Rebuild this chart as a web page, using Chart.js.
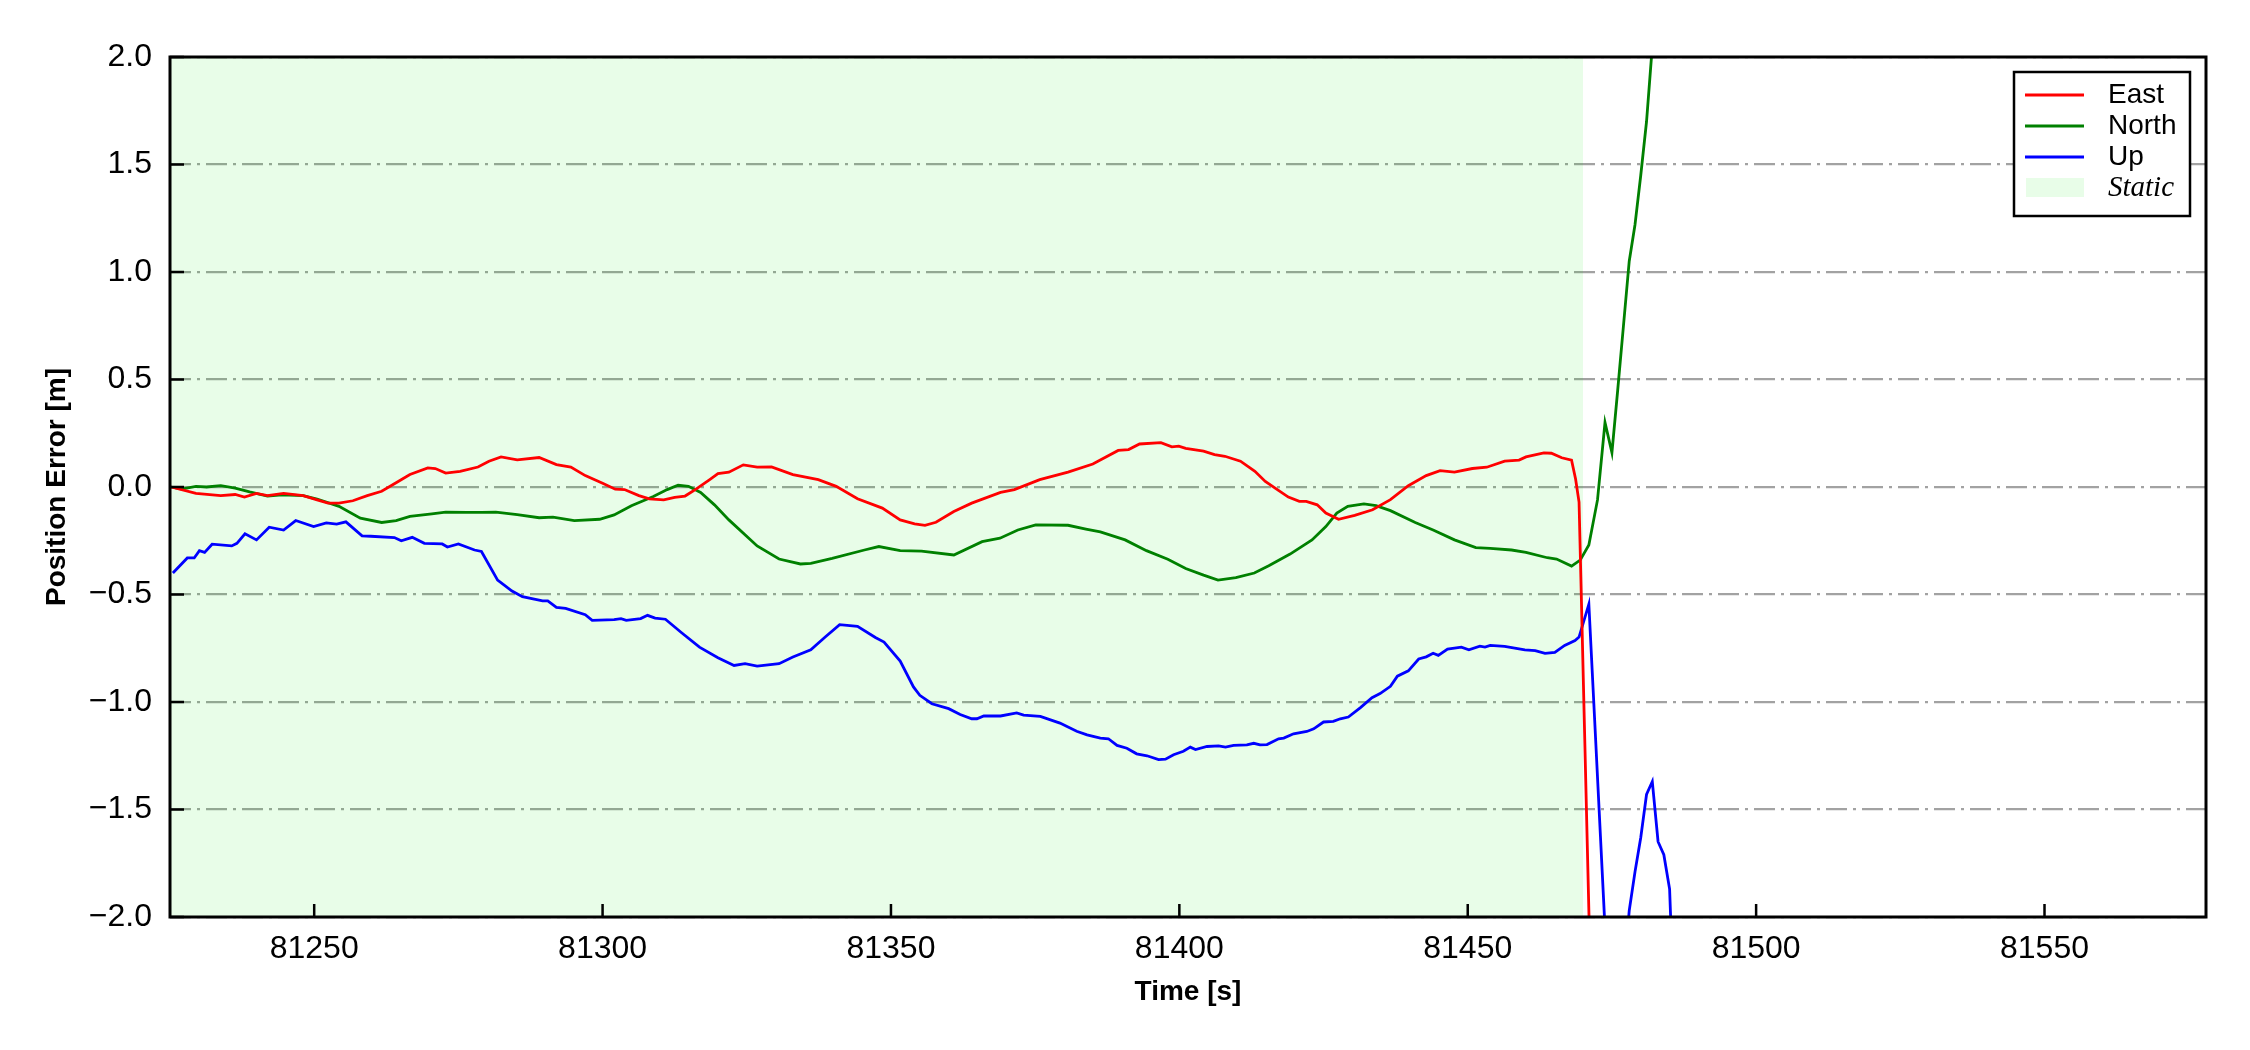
<!DOCTYPE html>
<html>
<head>
<meta charset="utf-8">
<script src="https://cdn.jsdelivr.net/npm/chart.js@4.4.1/dist/chart.umd.min.js"></script>
<style>
  html, body { margin: 0; padding: 0; background: #ffffff; }
  #wrap { width: 2250px; height: 1050px; }
</style>
</head>
<body>
<div id="wrap"><canvas id="errorChart" width="2250" height="1050"></canvas></div>
<script>
// position error time series
const eastTime = [81225.2, 81229.5, 81233.8, 81236.3, 81237.9, 81240, 81241.9, 81244.7, 81248.1, 81250.5, 81252.4, 81254.3, 81256.7, 81259.2, 81261.7, 81264.2, 81266.6, 81269.7, 81271, 81272.8, 81275.3, 81278.4, 81280.3, 81282.4, 81285.2, 81289, 81292, 81294.5, 81297, 81300.1, 81302.2, 81303.8, 81306.3, 81308.1, 81310.6, 81312.5, 81314.3, 81316.2, 81318.7, 81320, 81321.9, 81324.4, 81326.8, 81329.3, 81333, 81337.4, 81340.5, 81344.2, 81348.5, 81351.6, 81354.1, 81355.9, 81357.8, 81360.9, 81364, 81369, 81371.4, 81375.8, 81380.7, 81385, 81389.4, 81391.2, 81393.1, 81396.8, 81398.7, 81399.9, 81401.1, 81404.2, 81406.1, 81407.9, 81410.6, 81413.1, 81414.9, 81416.8, 81418.9, 81420.8, 81422, 81423.9, 81425.4, 81427.6, 81430.4, 81433.5, 81436.6, 81439.7, 81442.8, 81445.2, 81447.7, 81450.8, 81453.3, 81456.4, 81458.9, 81460.1, 81463.2, 81464.5, 81466.3, 81468, 81468.7, 81469.3, 81473]
const eastErr = [0, -0.03, -0.04, -0.035, -0.047, -0.03, -0.04, -0.03, -0.04, -0.06, -0.075, -0.075, -0.064, -0.04, -0.02, 0.02, 0.058, 0.089, 0.086, 0.065, 0.073, 0.093, 0.12, 0.14, 0.126, 0.137, 0.104, 0.093, 0.053, 0.016, -0.01, -0.012, -0.04, -0.055, -0.06, -0.048, -0.042, -0.01, 0.037, 0.062, 0.069, 0.103, 0.092, 0.093, 0.058, 0.034, 0.003, -0.055, -0.098, -0.153, -0.171, -0.178, -0.164, -0.114, -0.075, -0.025, -0.012, 0.034, 0.069, 0.107, 0.17, 0.174, 0.2, 0.206, 0.187, 0.19, 0.18, 0.167, 0.151, 0.143, 0.12, 0.073, 0.026, -0.009, -0.047, -0.067, -0.067, -0.083, -0.121, -0.15, -0.132, -0.106, -0.059, 0.006, 0.053, 0.076, 0.069, 0.086, 0.092, 0.12, 0.125, 0.14, 0.159, 0.157, 0.136, 0.125, 0.037, -0.07, -4.2]

const northTime = [81225.2, 81227, 81229.5, 81231.3, 81233.8, 81236.3, 81238.8, 81241.9, 81244.4, 81248.1, 81250.5, 81254.3, 81258, 81261.7, 81264.2, 81266.6, 81270.4, 81272.8, 81276.5, 81279, 81281.5, 81285.2, 81289, 81291.4, 81295.1, 81299.5, 81302, 81305, 81308.8, 81311.2, 81313.1, 81314.9, 81317, 81319.4, 81321.9, 81326.8, 81330.6, 81334.3, 81336.1, 81339.8, 81345.4, 81347.9, 81351.6, 81355.3, 81360.9, 81365.8, 81368.9, 81372, 81375.1, 81380.7, 81383.8, 81386.3, 81390.6, 81394.3, 81398, 81401.1, 81404.2, 81406.7, 81409.8, 81413, 81415.5, 81419.2, 81423, 81425.4, 81427.3, 81429.2, 81432, 81434.1, 81436.6, 81440.9, 81444, 81447.7, 81451.4, 81453.9, 81457.6, 81460.1, 81463.8, 81465.4, 81468, 81469.5, 81471, 81472.5, 81473.8, 81475, 81476, 81477, 81478, 81479, 81480, 81481, 81482, 81483, 81484]
const northErr = [0, -0.01, 0.003, 0, 0.006, -0.005, -0.023, -0.042, -0.036, -0.04, -0.056, -0.09, -0.145, -0.165, -0.156, -0.137, -0.125, -0.117, -0.118, -0.118, -0.117, -0.129, -0.143, -0.14, -0.156, -0.15, -0.13, -0.087, -0.044, -0.012, 0.008, 0.003, -0.025, -0.083, -0.153, -0.274, -0.335, -0.358, -0.355, -0.332, -0.293, -0.277, -0.296, -0.298, -0.316, -0.254, -0.238, -0.2, -0.176, -0.178, -0.196, -0.209, -0.246, -0.296, -0.336, -0.379, -0.41, -0.433, -0.422, -0.4, -0.366, -0.312, -0.246, -0.184, -0.121, -0.09, -0.079, -0.087, -0.11, -0.165, -0.2, -0.246, -0.282, -0.285, -0.293, -0.304, -0.329, -0.335, -0.368, -0.34, -0.27, -0.06, 0.3, 0.16, 0.45, 0.75, 1.05, 1.22, 1.45, 1.7, 2.05, 2.5, 3.0]

const upTime = [81225.5, 81228, 81229.2, 81230.1, 81231, 81232.3, 81235.7, 81236.6, 81238, 81240, 81242.2, 81244.7, 81246.8, 81249.9, 81252.1, 81253.9, 81255.5, 81258.3, 81259.8, 81263.9, 81265.1, 81267, 81269.1, 81272.2, 81273.1, 81275, 81277.8, 81279, 81281.8, 81284.3, 81286.1, 81289.6, 81290.5, 81292, 81293.6, 81297, 81298.2, 81302, 81303.2, 81304.1, 81306.6, 81307.8, 81309.1, 81310.9, 81313.7, 81316.8, 81320, 81322.8, 81324.7, 81326.8, 81330.6, 81333, 81336.1, 81338.6, 81341.1, 81344.2, 81347.3, 81348.8, 81351.6, 81353.9, 81355, 81357.1, 81360, 81362, 81364, 81364.9, 81366.1, 81369, 81371.8, 81373, 81375.9, 81379.3, 81382.2, 81384, 81386.3, 81387.7, 81389.2, 81390.9, 81392.6, 81394.4, 81396.4, 81397.6, 81399, 81400.7, 81401.9, 81402.8, 81404.8, 81406.8, 81408, 81409.4, 81411.7, 81412.9, 81414, 81415.2, 81417.2, 81418.1, 81419.8, 81422.1, 81423.3, 81425, 81426.7, 81427.9, 81429.3, 81431.4, 81433.4, 81434.8, 81436.6, 81437.8, 81439.7, 81441.5, 81442.8, 81444, 81444.9, 81446.5, 81448.9, 81450.2, 81452.1, 81453, 81453.9, 81456.4, 81459.9, 81461.7, 81463.4, 81465.1, 81466.8, 81468.6, 81469.3, 81471, 81472, 81473, 81474, 81475, 81476, 81477, 81478, 81479, 81480, 81481, 81482, 81483, 81484, 81485, 81486, 81487]
const upErr = [-0.4, -0.33, -0.33, -0.296, -0.304, -0.266, -0.274, -0.262, -0.218, -0.246, -0.187, -0.2, -0.156, -0.184, -0.167, -0.173, -0.162, -0.227, -0.229, -0.235, -0.25, -0.234, -0.262, -0.265, -0.279, -0.265, -0.293, -0.3, -0.433, -0.484, -0.51, -0.53, -0.53, -0.56, -0.565, -0.594, -0.62, -0.617, -0.612, -0.62, -0.612, -0.597, -0.61, -0.615, -0.678, -0.745, -0.794, -0.83, -0.822, -0.833, -0.822, -0.791, -0.757, -0.698, -0.64, -0.648, -0.7, -0.721, -0.81, -0.93, -0.969, -1.008, -1.031, -1.058, -1.078, -1.078, -1.065, -1.065, -1.051, -1.061, -1.067, -1.098, -1.136, -1.153, -1.168, -1.171, -1.202, -1.215, -1.241, -1.25, -1.268, -1.266, -1.245, -1.229, -1.21, -1.221, -1.207, -1.204, -1.21, -1.202, -1.199, -1.192, -1.199, -1.198, -1.171, -1.168, -1.148, -1.137, -1.125, -1.093, -1.09, -1.078, -1.07, -1.026, -0.98, -0.961, -0.927, -0.88, -0.855, -0.8, -0.79, -0.773, -0.783, -0.754, -0.745, -0.757, -0.74, -0.745, -0.737, -0.741, -0.758, -0.761, -0.774, -0.769, -0.737, -0.714, -0.698, -0.545, -1.08, -1.62, -2.16, -2.6, -2.8, -2.3, -1.97, -1.79, -1.63, -1.43, -1.37, -1.65, -1.71, -1.87, -2.6, -3.5]

// static period shaded in the background
const staticStart = 81225
const staticEnd = 81470

const seriesNames = ["East", "North", "Up"]
const seriesColors = ["#ff0000", "#008000", "#0000ff"]
const staticColor = "rgba(0, 233, 0, 0.09)"

const xRange = [81225, 81578]
const yRange = [-2.0, 2.0]
const xTicks = [81250, 81300, 81350, 81400, 81450, 81500, 81550]
const yTicks = [-2.0, -1.5, -1.0, -0.5, 0.0, 0.5, 1.0, 1.5, 2.0]

Chart.defaults.font.family = '"Liberation Sans", Arial, sans-serif'
Chart.defaults.color = '#000'

function toPoints(times, values) {
    return times.map((t, i) => ({x: t, y: values[i]}))
}

function fmtTick(v) {
    // matplotlib style unicode minus
    let s = Math.abs(v).toFixed(1)
    return v < 0 ? '\u2212' + s : s
}

// inward tick marks and the full frame round the plot area
const frameAndTicks = {
    id: 'frameAndTicks',
    afterDatasetsDraw(chart) {
        const {ctx, chartArea: a, scales} = chart
        ctx.save()
        ctx.strokeStyle = '#000'
        ctx.lineWidth = 2.5
        ctx.beginPath()
        yTicks.forEach(v => {
            let py = scales.y.getPixelForValue(v)
            ctx.moveTo(a.left, py)
            ctx.lineTo(a.left + 14, py)
        })
        xTicks.forEach(v => {
            let px = scales.x.getPixelForValue(v)
            ctx.moveTo(px, a.bottom)
            ctx.lineTo(px, a.bottom - 13)
        })
        ctx.stroke()
        ctx.lineWidth = 3
        ctx.strokeRect(a.left, a.top, a.right - a.left, a.bottom - a.top)
        ctx.restore()
    }
}

// boxed legend in the top right corner, Static label in serif italic
const boxLegend = {
    id: 'boxLegend',
    afterDraw(chart) {
        const {ctx, chartArea: a} = chart
        const w = 176, h = 144
        const left = a.right - 16 - w
        const top = a.top + 15
        const rows = [23, 54, 85, 115]
        ctx.save()
        ctx.fillStyle = '#ffffff'
        ctx.fillRect(left, top, w, h)
        ctx.lineWidth = 2.5
        ctx.strokeStyle = '#000'
        ctx.strokeRect(left, top, w, h)
        ctx.textBaseline = 'middle'
        seriesNames.forEach((name, i) => {
            ctx.strokeStyle = seriesColors[i]
            ctx.lineWidth = 2.8
            ctx.beginPath()
            ctx.moveTo(left + 11, top + rows[i])
            ctx.lineTo(left + 70, top + rows[i])
            ctx.stroke()
            ctx.fillStyle = '#000'
            ctx.font = '28px "Liberation Sans", Arial, sans-serif'
            ctx.fillText(name, left + 94, top + rows[i])
        })
        ctx.fillStyle = staticColor
        ctx.fillRect(left + 12, top + rows[3] - 9, 58, 19)
        ctx.fillStyle = '#000'
        ctx.font = 'italic 29px "Liberation Serif", "Times New Roman", serif'
        ctx.fillText('Static', left + 94, top + rows[3] + 1)
        ctx.restore()
    }
}

const datasets = [
    {label: seriesNames[0], data: toPoints(eastTime, eastErr), borderColor: seriesColors[0], order: 1},
    {label: seriesNames[1], data: toPoints(northTime, northErr), borderColor: seriesColors[1], order: 2},
    {label: seriesNames[2], data: toPoints(upTime, upErr), borderColor: seriesColors[2], order: 3},
].map(d => Object.assign(d, {borderWidth: 2.8, pointRadius: 0, tension: 0, fill: false, showLine: true}))

datasets.push({
    label: 'Static',
    data: [{x: staticStart, y: yRange[1]}, {x: staticEnd, y: yRange[1]}],
    borderWidth: 0,
    borderColor: 'rgba(0,0,0,0)',
    backgroundColor: staticColor,
    pointRadius: 0,
    showLine: true,
    fill: 'start',
    order: 10
})

new Chart(document.getElementById('errorChart'), {
    type: 'scatter',
    data: {datasets: datasets},
    options: {
        responsive: false,
        animation: false,
        devicePixelRatio: 1,
        layout: {padding: {top: 57, right: 44, left: 0, bottom: 0}},
        plugins: {legend: {display: false}, tooltip: {enabled: false}},
        scales: {
            x: {
                type: 'linear',
                min: xRange[0],
                max: xRange[1],
                afterBuildTicks: scale => { scale.ticks = xTicks.map(v => ({value: v})) },
                afterFit: scale => { scale.height = 133 },
                grid: {display: false, drawTicks: false},
                border: {display: false},
                ticks: {font: {size: 32}, padding: 13, maxRotation: 0, callback: v => String(v)},
                title: {display: true, text: 'Time [s]', font: {size: 28, weight: 'bold'}, padding: {top: 0, bottom: 41}}
            },
            y: {
                type: 'linear',
                min: yRange[0],
                max: yRange[1],
                afterBuildTicks: scale => { scale.ticks = yTicks.map(v => ({value: v})) },
                afterFit: scale => { scale.width = 170 },
                grid: {color: '#a2a2a2', lineWidth: 2.2, drawTicks: false},
                border: {display: false, dash: [21, 6, 3, 6]},
                ticks: {font: {size: 32}, padding: 18, callback: v => fmtTick(v)},
                title: {display: true, text: 'Position Error [m]', font: {size: 28, weight: 'bold'}, padding: {top: 40, bottom: 0}}
            }
        }
    },
    plugins: [frameAndTicks, boxLegend]
})
</script>
</body>
</html>
